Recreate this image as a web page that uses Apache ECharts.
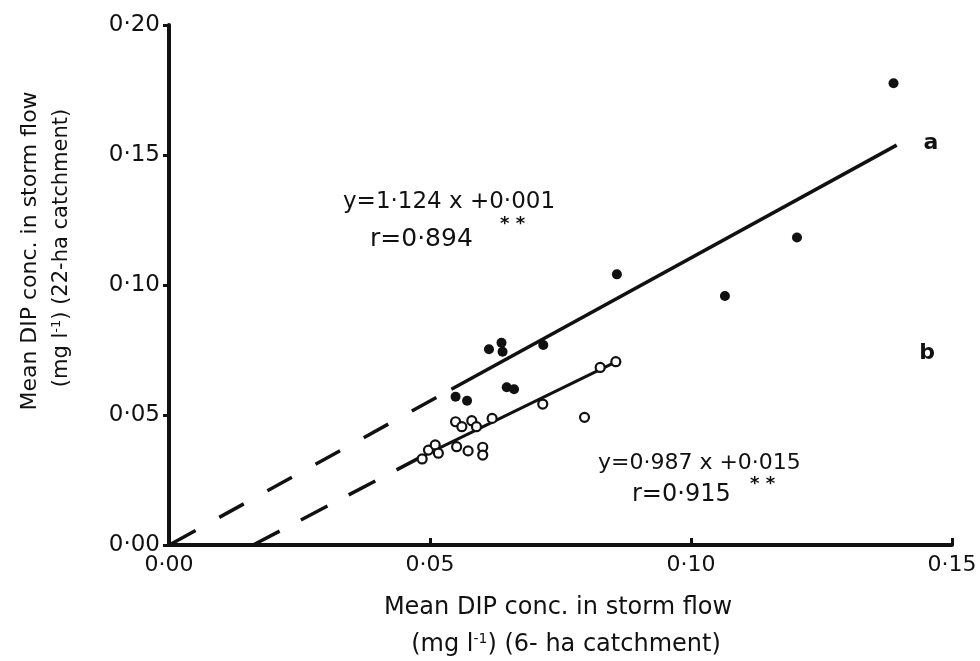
<!DOCTYPE html>
<html>
<head>
<meta charset="utf-8">
<script src="https://cdn.jsdelivr.net/npm/echarts@6/dist/echarts.min.js"></script>
<style>
html,body{margin:0;padding:0;background:#fff;}
#chart{width:980px;height:661px;}
</style>
</head>
<body>
<div id="chart"></div>
<script>
// Series a (filled dots): 22-ha vs 6-ha
var seriesA = [
  [0.1388, 0.1776], [0.1203, 0.1183], [0.1065, 0.0958], [0.0858, 0.1041],
  [0.0613, 0.0753], [0.0637, 0.0778], [0.0639, 0.0743], [0.0717, 0.0769],
  [0.0647, 0.0607], [0.0661, 0.0599], [0.0549, 0.0570], [0.0571, 0.0555]
];
// Series b (open circles)
var seriesB = [
  [0.0856, 0.0705], [0.0826, 0.0683], [0.0716, 0.0542], [0.0796, 0.0491],
  [0.0619, 0.0487], [0.0549, 0.0474], [0.0561, 0.0455], [0.0580, 0.0478],
  [0.0589, 0.0455], [0.0485, 0.0331], [0.0497, 0.0365], [0.0510, 0.0385],
  [0.0516, 0.0353], [0.0551, 0.0378], [0.0573, 0.0362], [0.0601, 0.0376],
  [0.0601, 0.0346]
];
// Regression lines (endpoints in data units)
var lineASolid = [[0.0541, 0.0599], [0.1394, 0.1538]];
var lineADashed = [[0.0004, 0.0004], [0.0541, 0.0599]];
var lineBSolid = [[0.0490, 0.0346], [0.0860, 0.0708]];
var lineBDashed = [[0.0161, 0.0], [0.0490, 0.0346]];

var xTickLabels = ['0·00', '0·05', '0·10', '0·15'];
var yTickLabels = ['0·00', '0·05', '0·10', '0·15', '0·20'];

var INK = '#111';
var FONT = 'DejaVu Sans';

var chart = echarts.init(document.getElementById('chart'));
var option = {
  backgroundColor: '#fff',
  animation: false,
  grid: { left: 169, right: 28, top: 25, bottom: 116, containLabel: false },
  xAxis: {
    type: 'value', min: 0, max: 0.15, interval: 0.05,
    axisLine: { show: true, lineStyle: { color: INK, width: 4 } },
    axisTick: { show: true, inside: true, length: 7, lineStyle: { color: INK, width: 3 } },
    splitLine: { show: false },
    axisLabel: {
      color: INK, fontFamily: FONT, fontSize: 22, margin: 9,
      formatter: function (v) { return xTickLabels[Math.round(v / 0.05)]; }
    }
  },
  yAxis: {
    type: 'value', min: 0, max: 0.20, interval: 0.05,
    axisLine: { show: true, lineStyle: { color: INK, width: 4 } },
    axisTick: { show: true, inside: false, length: 6, lineStyle: { color: INK, width: 3 } },
    splitLine: { show: false },
    axisLabel: {
      color: INK, fontFamily: FONT, fontSize: 23, margin: 9,
      formatter: function (v) { return yTickLabels[Math.round(v / 0.05)]; }
    }
  },
  series: [
    { type: 'line', data: lineADashed, symbol: 'none', silent: true,
      lineStyle: { color: INK, width: 3.5, type: [28, 27] } },
    { type: 'line', data: lineASolid, symbol: 'none', silent: true,
      lineStyle: { color: INK, width: 3.5 } },
    { type: 'line', data: lineBDashed, symbol: 'none', silent: true,
      lineStyle: { color: INK, width: 3.5, type: [30, 24] } },
    { type: 'line', data: lineBSolid, symbol: 'none', silent: true,
      lineStyle: { color: INK, width: 3 } },
    { type: 'scatter', data: seriesA, symbol: 'circle', symbolSize: 10,
      itemStyle: { color: INK, opacity: 1 }, z: 5 },
    { type: 'scatter', data: seriesB, symbol: 'circle', symbolSize: 9,
      itemStyle: { color: '#fff', borderColor: INK, borderWidth: 2.2, opacity: 1 }, z: 5 }
  ],
  graphic: [
    { type: 'text', x: 30, y: 251, rotation: Math.PI / 2,
      style: { text: 'Mean DIP conc. in storm flow', fill: INK, font: '22px "DejaVu Sans"',
        textAlign: 'center', textVerticalAlign: 'middle' } },
    { type: 'text', x: 62, y: 248, rotation: Math.PI / 2,
      style: { text: '(mg l{sup|-1}) (22-ha catchment)', fill: INK, font: '21px "DejaVu Sans"',
        textAlign: 'center', textVerticalAlign: 'middle',
        rich: { sup: { fontSize: 13, fontFamily: FONT, fill: INK, padding: [0, 0, 10, 0] } } } },
    { type: 'text', x: 558, y: 608,
      style: { text: 'Mean DIP conc. in storm flow', fill: INK, font: '24px "DejaVu Sans"',
        textAlign: 'center', textVerticalAlign: 'middle' } },
    { type: 'text', x: 566, y: 645,
      style: { text: '(mg l{sup|-1}) (6- ha catchment)', fill: INK, font: '24px "DejaVu Sans"',
        textAlign: 'center', textVerticalAlign: 'middle',
        rich: { sup: { fontSize: 14, fontFamily: FONT, fill: INK, padding: [0, 0, 12, 0] } } } },
    { type: 'text', x: 343, y: 202,
      style: { text: 'y=1·124 x +0·001', fill: INK, font: '23px "DejaVu Sans"',
        textAlign: 'left', textVerticalAlign: 'middle' } },
    { type: 'text', x: 370, y: 239,
      style: { text: 'r=0·894', fill: INK, font: '25px "DejaVu Sans"',
        textAlign: 'left', textVerticalAlign: 'middle' } },
    { type: 'text', x: 500, y: 224,
      style: { text: '* *', fill: INK, font: 'bold 18px "DejaVu Sans"',
        textAlign: 'left', textVerticalAlign: 'middle' } },
    { type: 'text', x: 598, y: 463,
      style: { text: 'y=0·987 x +0·015', fill: INK, font: '22px "DejaVu Sans"',
        textAlign: 'left', textVerticalAlign: 'middle' } },
    { type: 'text', x: 632, y: 495,
      style: { text: 'r=0·915', fill: INK, font: '24px "DejaVu Sans"',
        textAlign: 'left', textVerticalAlign: 'middle' } },
    { type: 'text', x: 750, y: 484,
      style: { text: '* *', fill: INK, font: 'bold 18px "DejaVu Sans"',
        textAlign: 'left', textVerticalAlign: 'middle' } },
    { type: 'text', x: 931, y: 143,
      style: { text: 'a', fill: INK, font: 'bold 22px "DejaVu Sans"',
        textAlign: 'center', textVerticalAlign: 'middle' } },
    { type: 'text', x: 927, y: 353,
      style: { text: 'b', fill: INK, font: 'bold 22px "DejaVu Sans"',
        textAlign: 'center', textVerticalAlign: 'middle' } }
  ]
};
chart.setOption(option);
</script>
</body>
</html>
